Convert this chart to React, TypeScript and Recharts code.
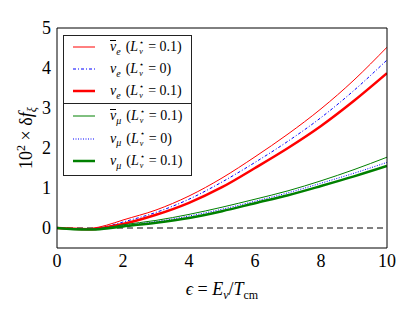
import React from "react";
import { LineChart, Line, XAxis, YAxis, ReferenceLine, Legend } from "recharts";

const eps = [0, 0.5, 1, 1.5, 2, 3, 4, 5, 6, 7, 8, 9, 10];
const nuBarE = [0, -0.02, -0.01, 0.07, 0.2, 0.45, 0.8, 1.25, 1.78, 2.35, 2.98, 3.7, 4.52];
const nuE0 = [0, -0.02, -0.02, 0.04, 0.15, 0.39, 0.72, 1.15, 1.64, 2.17, 2.76, 3.44, 4.2];
const nuE = [0, -0.02, -0.03, 0.02, 0.1, 0.33, 0.63, 1.02, 1.5, 2.0, 2.55, 3.18, 3.87];
const nuBarMu = [0, -0.02, -0.03, 0.01, 0.08, 0.19, 0.34, 0.52, 0.72, 0.93, 1.18, 1.46, 1.77];
const nuMu0 = [0, -0.02, -0.03, 0.0, 0.06, 0.16, 0.3, 0.47, 0.67, 0.88, 1.12, 1.37, 1.64];
const nuMu = [0, -0.03, -0.04, -0.01, 0.04, 0.13, 0.25, 0.42, 0.62, 0.82, 1.05, 1.29, 1.55];

const xTicks = [0, 2, 4, 6, 8, 10];
const yTicks = [0, 1, 2, 3, 4, 5];

const data = eps.map((e, i) => ({
  eps: e,
  nuBarE: nuBarE[i],
  nuE0: nuE0[i],
  nuE: nuE[i],
  nuBarMu: nuBarMu[i],
  nuMu0: nuMu0[i],
  nuMu: nuMu[i],
}));

type Series = {
  key: string;
  color: string;
  width: number;
  dash?: string;
  bar: boolean;
  flavor: string;
  L: string;
  group: number;
};

const series: Series[] = [
  { key: "nuBarE", color: "#ff0000", width: 1, bar: true, flavor: "e", L: "0.1", group: 0 },
  { key: "nuE0", color: "#0000ff", width: 1, dash: "3 2 1 2", bar: false, flavor: "e", L: "0", group: 0 },
  { key: "nuE", color: "#ff0000", width: 2.5, bar: false, flavor: "e", L: "0.1", group: 0 },
  { key: "nuBarMu", color: "#008000", width: 1, bar: true, flavor: "μ", L: "0.1", group: 1 },
  { key: "nuMu0", color: "#0000ff", width: 1, dash: "1 1.5", bar: false, flavor: "μ", L: "0", group: 1 },
  { key: "nuMu", color: "#008000", width: 2.5, bar: false, flavor: "μ", L: "0.1", group: 1 },
];

const FONT = "Liberation Serif, Times New Roman, serif";

const LegendLabel = ({ s }: { s: Series }) => (
  <span style={{ fontFamily: FONT, fontSize: 14, whiteSpace: "nowrap", display: "inline-flex", alignItems: "center" }}>
    <span style={{ fontStyle: "italic", position: "relative" }}>
      ν
      {s.bar ? (
        <span style={{ position: "absolute", left: 0, right: 0, top: 1, borderTop: "1px solid #000" }} />
      ) : null}
    </span>
    <span style={{ fontStyle: "italic", fontSize: 10, position: "relative", top: 4 }}>{s.flavor}</span>
    <span style={{ marginLeft: 5 }}>(</span>
    <span style={{ fontStyle: "italic" }}>L</span>
    <span style={{ display: "inline-flex", flexDirection: "column", fontSize: 8, lineHeight: "9.5px", marginLeft: 1 }}>
      <span style={{ display: "block" }}>⋆</span>
      <span style={{ display: "block", fontStyle: "italic" }}>ν</span>
    </span>
    <span style={{ marginLeft: 4 }}>= {s.L})</span>
  </span>
);

const LegendBox = () => {
  const groups = [0, 1];
  return (
    <div style={{ width: 129, background: "#fff" }}>
      {groups.map((g) => (
        <div
          key={g}
          style={{
            border: "1px solid #222",
            marginTop: g === 0 ? 0 : -1,
            paddingTop: g === 0 ? 0 : 1,
            paddingBottom: g === 0 ? 1 : 2,
            boxSizing: "border-box",
          }}
        >
          {series
            .filter((s) => s.group === g)
            .map((s) => (
              <div
                key={s.key}
                style={{ height: g === 0 ? 22 : 22.5, display: "flex", alignItems: "center" }}
              >
                <svg width={22} height={6} style={{ marginLeft: 9, marginRight: 15, flex: "none" }}>
                  <line
                    x1={0}
                    x2={22}
                    y1={3}
                    y2={3}
                    stroke={s.color}
                    strokeWidth={s.width}
                    strokeDasharray={s.dash}
                  />
                </svg>
                <LegendLabel s={s} />
              </div>
            ))}
        </div>
      ))}
    </div>
  );
};

const YLabel = (props: any) => {
  const vb = props.viewBox || { x: 12, y: 28, width: 45, height: 220 };
  const cx = vb.x + 20;
  const cy = vb.y + vb.height / 2;
  return (
    <text
      x={cx}
      y={cy}
      transform={`rotate(-90 ${cx} ${cy})`}
      textAnchor="middle"
      fontFamily={FONT}
      fontSize={18}
      fill="#000"
    >
      10
      <tspan dy={-7} fontSize={12}>2</tspan>
      <tspan dy={7}> × δ</tspan>
      <tspan fontStyle="italic">f</tspan>
      <tspan dy={4} fontSize={12} fontStyle="italic">ξ</tspan>
    </text>
  );
};

const XLabel = (props: any) => {
  const vb = props.viewBox || { x: 57, y: 248, width: 330, height: 30 };
  const cx = vb.x + vb.width / 2;
  const cy = vb.y + 47;
  return (
    <text x={cx} y={cy} textAnchor="middle" fontFamily={FONT} fontSize={18} fill="#000">
      <tspan fontStyle="italic">ϵ</tspan>
      <tspan> = </tspan>
      <tspan fontStyle="italic">E</tspan>
      <tspan dy={4} fontSize={12} fontStyle="italic">ν</tspan>
      <tspan dy={-4}>/</tspan>
      <tspan fontStyle="italic">T</tspan>
      <tspan dy={4} fontSize={12}>cm</tspan>
    </text>
  );
};

const tickStyle = { fontSize: 18, fill: "#000", fontFamily: FONT };

export default function App() {
  return (
    <div style={{ position: "absolute", left: 0, top: 0, width: 415, height: 312, background: "#fff", fontFamily: FONT }}>
      <LineChart width={415} height={312} data={data} margin={{ top: 28, right: 28, left: 12, bottom: 34 }}>
        <XAxis
          dataKey="eps"
          type="number"
          domain={[0, 10]}
          ticks={xTicks}
          allowDataOverflow
          tickLine={false}
          tickSize={4}
          axisLine={{ stroke: "#000", strokeWidth: 1 }}
          tick={tickStyle}
          height={30}
          label={<XLabel />}
        />
        <XAxis
          xAxisId="bm"
          dataKey="eps"
          type="number"
          domain={[0, 10]}
          ticks={xTicks}
          allowDataOverflow
          mirror
          tick={false}
          tickSize={4}
          tickLine={{ stroke: "#000" }}
          axisLine={false}
        />
        <XAxis
          xAxisId="top"
          orientation="top"
          dataKey="eps"
          type="number"
          domain={[0, 10]}
          ticks={xTicks}
          allowDataOverflow
          mirror
          tick={false}
          tickSize={4}
          tickLine={{ stroke: "#000" }}
          axisLine={{ stroke: "#000" }}
        />
        <YAxis
          type="number"
          domain={[-0.5, 5]}
          ticks={yTicks}
          allowDataOverflow
          tickLine={false}
          tickSize={4}
          axisLine={{ stroke: "#000", strokeWidth: 1 }}
          tick={tickStyle}
          width={45}
          label={<YLabel />}
        />
        <YAxis
          yAxisId="lm"
          type="number"
          domain={[-0.5, 5]}
          ticks={yTicks}
          allowDataOverflow
          mirror
          tick={false}
          tickSize={4}
          tickLine={{ stroke: "#000" }}
          axisLine={false}
        />
        <YAxis
          yAxisId="right"
          orientation="right"
          type="number"
          domain={[-0.5, 5]}
          ticks={yTicks}
          allowDataOverflow
          mirror
          tick={false}
          tickSize={4}
          tickLine={{ stroke: "#000" }}
          axisLine={{ stroke: "#000" }}
        />
        <ReferenceLine y={0} stroke="#000" strokeDasharray="6 4" strokeWidth={1} />
        {series.map((s) => (
          <Line
            key={s.key}
            dataKey={s.key}
            type="monotone"
            stroke={s.color}
            strokeWidth={s.width}
            strokeDasharray={s.dash}
            dot={false}
            activeDot={false}
            isAnimationActive={false}
          />
        ))}
        <Legend
          layout="horizontal"
          verticalAlign="middle"
          align="center"
          content={() => <LegendBox />}
          wrapperStyle={{ position: "absolute", left: 63, top: 35, width: "auto", height: "auto" }}
        />
      </LineChart>
    </div>
  );
}
